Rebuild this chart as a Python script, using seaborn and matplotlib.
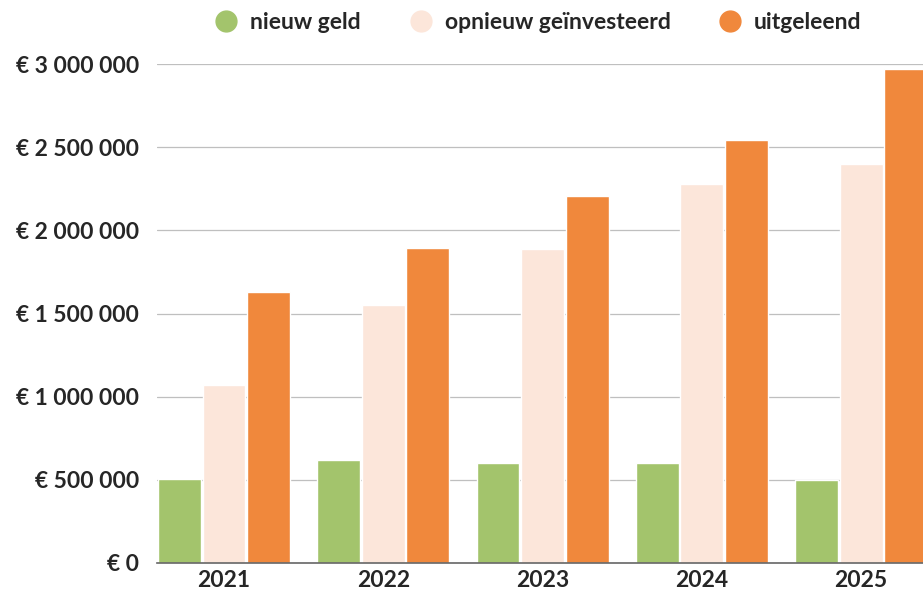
import numpy as np
import pandas as pd
import matplotlib
matplotlib.use('Agg')
import matplotlib.pyplot as plt
import seaborn as sns
from matplotlib.lines import Line2D
from matplotlib.ticker import FuncFormatter

# data
years = ['2021', '2022', '2023', '2024', '2025']
series = ['nieuw geld', 'opnieuw geïnvesteerd', 'uitgeleend']
nieuw_geld = [506000, 617000, 602000, 603000, 500000]
herinvesteerd = [1070000, 1550000, 1887000, 2279000, 2398000]
uitgeleend = [1629000, 1893000, 2206000, 2544000, 2970000]
colors = ['#A3C46C', '#FCE6DA', '#F0883C']

df = pd.DataFrame({
    'jaar': years * 3,
    'reeks': [series[0]] * 5 + [series[1]] * 5 + [series[2]] * 5,
    'bedrag': nieuw_geld + herinvesteerd + uitgeleend,
})

sns.set_style('white')
plt.rcParams['font.family'] = ['Lato', 'DejaVu Sans']

fig = plt.figure(figsize=(9.23, 5.94), dpi=100)
ax = fig.add_axes([0.1701, 0.0522, 0.8299, 0.840])

sns.barplot(data=df, x='jaar', y='bedrag', hue='reeks', palette=colors,
            width=0.84, gap=0.04, ax=ax, legend=False, saturation=1)

ax.set_xlim(-0.42, 4.388)
ax.set_ylim(0, 3000000)
ax.set_yticks(np.arange(0, 3000001, 500000))


def euro(v, pos):
    if v == 0:
        return '€ 0'
    return '€ ' + f'{int(v):,}'.replace(',', ' ')


ax.yaxis.set_major_formatter(FuncFormatter(euro))
ax.grid(axis='y', color='#BFBFBF', linewidth=0.9)
ax.set_axisbelow(True)
for s in ['top', 'right', 'left']:
    ax.spines[s].set_visible(False)
ax.spines['bottom'].set_color('#666666')
ax.spines['bottom'].set_linewidth(1.2)
ax.spines['bottom'].set_zorder(5)
ax.tick_params(axis='both', length=0, labelsize=16.5)
ax.tick_params(axis='y', pad=13)
ax.tick_params(axis='x', pad=5)
for lab in ax.get_xticklabels() + ax.get_yticklabels():
    lab.set_fontweight('bold')
ax.set_xlabel('')
ax.set_ylabel('')

handles = [Line2D([], [], marker='o', linestyle='', markersize=15,
                  markerfacecolor=c, markeredgecolor=c) for c in colors]
fig.legend(handles, series, loc='center', bbox_to_anchor=(0.582, 0.962), ncol=3,
           frameon=False, prop={'weight': 'bold', 'size': 16.5},
           handletextpad=0.45, columnspacing=2.0, handlelength=1.2)

fig.savefig('out.png', dpi=100)
